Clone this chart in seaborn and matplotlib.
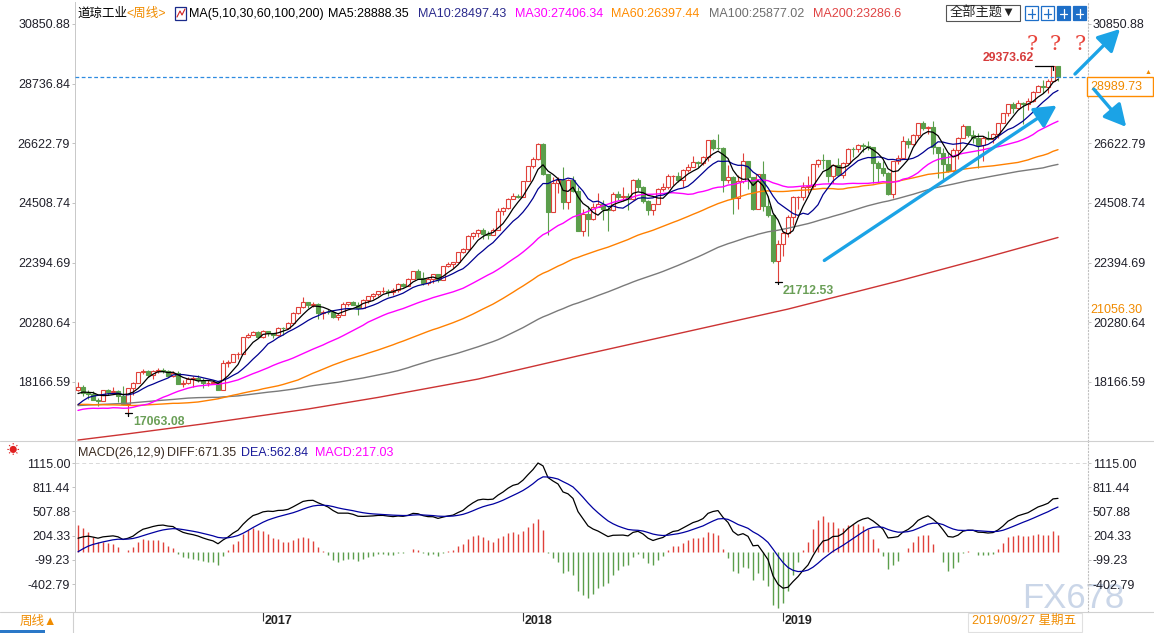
import numpy as np
import pandas as pd
import matplotlib
matplotlib.use('Agg')
import matplotlib.pyplot as plt
from matplotlib.patches import Rectangle, FancyArrowPatch
import seaborn as sns

# weekly closes before the first visible bar (May 2014 - Apr 2016), used for MA / MACD warm-up
pre_close = [16606, 16717, 16924, 16776, 16947, 16851, 17068, 16944, 17100, 16961,
             16493, 16554, 16663, 17001, 17098, 17138, 16988, 17280, 17113, 17009,
             16544, 16380, 16805, 17391, 17573, 17634, 17810, 17828, 17958, 17280,
             17805, 18053, 17833, 17737, 17511, 17672, 17165, 17825, 18019, 18140,
             18133, 17856, 17749, 18128, 17713, 17763, 18058, 17826, 18080, 18024,
             18191, 18272, 18232, 18011,
             17849, 17898, 18015, 17947, 17730, 17760, 18086, 17568, 17690, 17373,
             17477, 16460, 16643, 16102, 16433, 16385, 16315, 16472, 17084, 17216,
             17647, 17664, 17910, 17245, 17824, 17798, 17848, 17265, 17128, 17552,
             17425, 16346, 15988, 16094, 16466, 16205, 15974, 16392, 16640, 17007,
             17213, 17602, 17516, 17793, 17577, 17897]

# visible weekly bars: 2016-04-22 ... 2020-01-24
close = [18003, 17774, 17741, 17535, 17501, 17873, 17807, 17865, 17675, 17400,
         17949, 18147, 18517, 18571, 18432, 18544, 18576, 18553, 18395, 18492,
         18085, 18124, 18262, 18308, 18240, 18138, 18146, 18161, 17888, 18847,
         18868, 19152, 19171, 19757, 19843, 19934, 19763,
         19964, 19886, 19827, 20094, 20071, 20269, 20624, 20822, 21005, 20903,
         20915, 20597, 20663, 20656, 20453, 20548, 20941, 21007, 20897, 20805,
         21080, 21206, 21272, 21384, 21395, 21350, 21414, 21638, 21580, 21830,
         22093, 21858, 21675, 21814, 21988, 21798, 22268, 22350, 22405, 22773,
         22871, 23329, 23434, 23539, 23422, 23358, 23558, 24231, 24329, 24652,
         24754, 24719,
         25295, 25803, 26072, 26616, 25521, 24190, 25219, 25310, 24538, 25336,
         24946, 23533, 24103, 23933, 24360, 24463, 24311, 24263, 24831, 24715,
         24753, 24635, 25317, 25090, 24581, 24271, 24456, 25019, 25058, 25451,
         25463, 25313, 25669, 25790, 25965, 25917, 26155, 26744, 26458, 26447,
         25340, 25444, 24688, 25271, 25989, 25413, 24286, 25538, 24389, 24101,
         22445, 23062,
         23433, 23996, 24706, 24737, 25064, 25106, 25883, 26031, 26026, 25450,
         25849, 25502, 25929, 26425, 26412, 26559, 26543, 26505, 25942, 25764,
         25586, 24815, 25984, 26090, 26719, 26600, 26922, 27332, 27154, 27192,
         26485, 26287, 25886, 25629, 26403, 26797, 27220, 26935, 26820, 26573,
         26817, 26770, 26958, 27347, 27681, 28005, 27876, 28051, 28015, 28135,
         28455, 28645,
         28634, 28824, 29348, 28989.73]

high = [18167, 18065, 17880, 17860, 17610, 17890, 17930, 18005, 17870, 18012,
        17950, 18150, 18537, 18622, 18590, 18580, 18668, 18650, 18580, 18550,
        18540, 18250, 18360, 18365, 18400, 18320, 18250, 18250, 18200, 18934,
        18934, 19153, 19225, 19775, 19912, 19987, 19981,
        19999, 19975, 19900, 20125, 20110, 20298, 20640, 20840, 21170, 21010,
        21000, 20950, 20730, 20740, 20700, 20610, 21000, 21010, 21030, 21000,
        21110, 21225, 21305, 21392, 21535, 21460, 21480, 21680, 21680, 21860,
        22100, 22180, 22050, 21900, 22000, 21990, 22275, 22420, 22420, 22780,
        22905, 23368, 23485, 23602, 23610, 23510, 23610, 24327, 24350, 24670,
        24876, 24840,
        25300, 25810, 26150, 26617, 26617, 25520, 25430, 25430, 25800, 25350,
        25450, 25090, 24300, 24400, 24500, 24860, 24600, 24400, 24900, 24950,
        25090, 24850, 25370, 25400, 25100, 24600, 24470, 25030, 25220, 25540,
        25500, 25600, 25720, 25890, 26170, 26000, 26160, 26750, 26770, 26951,
        26500, 25850, 25450, 25500, 26280, 26000, 25420, 25550, 25980, 24760,
        24150, 23180,
        23520, 24070, 24750, 24740, 25250, 25450, 25900, 26060, 26240, 26000,
        25900, 26110, 25950, 26450, 26480, 26600, 26650, 26695, 26450, 26000,
        25990, 25600, 26000, 26200, 26900, 26800, 26970, 27340, 27400, 27250,
        27400, 26490, 26450, 26270, 26460, 26850, 27300, 27190, 27080, 27000,
        26870, 27050, 27000, 27350, 27700, 28010, 28090, 28175, 28070, 28230,
        28460, 28700,
        28870, 28900, 29373.62, 29300]

low = [17860, 17670, 17580, 17530, 17330, 17480, 17690, 17780, 17470, 17356,
       17063.08, 17710, 18130, 18450, 18360, 18280, 18500, 18470, 18330, 18330,
       18085, 17990, 18080, 18000, 18180, 17960, 18030, 18090, 17880, 17888,
       18700, 18900, 18990, 19170, 19720, 19840, 19720,
       19720, 19800, 19730, 19790, 19830, 20050, 20270, 20560, 20790, 20780,
       20810, 20410, 20410, 20560, 20430, 20380, 20548, 20850, 20880, 20550,
       20800, 20970, 21110, 21230, 21330, 21200, 21260, 21350, 21530, 21560,
       21800, 21840, 21600, 21600, 21690, 21720, 21800, 22250, 22220, 22410,
       22730, 22850, 23240, 23300, 23250, 23240, 23360, 23540, 24100, 24290,
       24650, 24700,
       24720, 25300, 25750, 26020, 25490, 23360, 24190, 24880, 24300, 24300,
       24900, 23500, 23350, 23340, 23900, 24360, 23900, 23530, 24220, 24600,
       24580, 24250, 24630, 24950, 24500, 24080, 24070, 24460, 24950, 25000,
       25130, 25250, 25090, 25600, 25800, 25800, 25850, 26000, 26380, 26400,
       24900, 25200, 24120, 24300, 25200, 25000, 24270, 24300, 24240, 24000,
       22400, 21712.53,
       22640, 23300, 23740, 24300, 24600, 24880, 25000, 25800, 25700, 25250,
       25200, 25500, 25400, 25950, 26150, 26300, 26300, 26380, 25220, 25220,
       25450, 24800, 24680, 25900, 26050, 26450, 26580, 26800, 27100, 26950,
       26250, 25400, 25340, 25600, 25600, 26050, 26800, 26860, 26650, 25740,
       26000, 26750, 26640, 26800, 27350, 27600, 27700, 27850, 27320, 27800,
       28100, 28450,
       28400, 28400, 28850, 28820]

# MA200 at a few bars
ma200_idx = [0, 10, 25, 46, 60, 80, 100, 120, 142, 164, 180, 196]
ma200_val = [16110, 16330, 16680, 17210, 17620, 18270, 19090, 19880, 20750, 21740, 22500, 23287]

year_idx = [37, 89, 141]
year_lab = ['2017', '2018', '2019']

main_ticks = [30850.88, 28736.84, 26622.79, 24508.74, 22394.69, 20280.64, 18166.59]
macd_ticks = [1115.00, 811.44, 507.88, 204.33, -99.23, -402.79]

last_price = 28989.73
hi_label, lo1_idx, lo2_idx = 195, 10, 140

# ---------------- indicators ----------------
full = pd.Series(pre_close + close, dtype=float)
npre = len(pre_close)
ma = {k: full.rolling(k).mean().iloc[npre:].to_numpy() for k in (5, 10, 30, 60, 100)}
ema12 = full.ewm(span=12, adjust=False).mean()
ema26 = full.ewm(span=26, adjust=False).mean()
dif = ema12 - ema26
dea = dif.ewm(span=9, adjust=False).mean()
bar = 2 * (dif - dea)
dif, dea, bar = [s.iloc[npre:].to_numpy() for s in (dif, dea, bar)]

c = np.array(close, dtype=float)
o = np.r_[pre_close[-1], c[:-1]]
h = np.maximum(np.array(high, dtype=float), np.maximum(o, c))
l = np.minimum(np.array(low, dtype=float), np.minimum(o, c))
x = np.arange(len(c))
up = c >= o

RED = '#E0413A'
GREEN = '#5B9E4B'

# ---------------- figure ----------------
sns.set_style('white')
plt.rcParams['font.family'] = ['Liberation Sans', 'Noto Sans CJK SC', 'DejaVu Sans']

W, H = 1154, 633
fig = plt.figure(figsize=(W / 100, H / 100), dpi=100)
fig.patch.set_facecolor('white')


def box(lft, top, rgt, bot):
    return [lft / W, 1 - bot / H, (rgt - lft) / W, (bot - top) / H]


def fx(p):
    return p / W


def fy(p):
    return 1 - p / H


def label(px, py, s, color='#1a1a1a', size=9, ha='left', va='center', **kw):
    fig.text(fx(px), fy(py), s, color=color, fontsize=size, ha=ha, va=va, **kw)


ax = fig.add_axes(box(75, 2, 1088, 441))
axm = fig.add_axes(box(75, 441, 1088, 612))
axs = fig.add_axes(box(75, 612, 1088, 633))
for a in (ax, axm, axs):
    a.set_xlim(-0.6, 202)
    a.set_facecolor('none')
    a.set_xticks([])
    for s in a.spines.values():
        s.set_visible(False)

ax.set_ylim(16076, 31630)
axm.set_ylim(-754, 1391)

# candles
ax.vlines(x, l, h, colors=np.where(up, RED, GREEN), lw=0.8, zorder=2)
ax.bar(x[up], (c - o)[up], bottom=o[up], width=0.7, facecolor='white',
       edgecolor=RED, lw=0.8, zorder=3)
ax.bar(x[~up], (o - c)[~up], bottom=c[~up], width=0.7, facecolor=GREEN,
       edgecolor=GREEN, lw=0.8, zorder=3)

# moving averages
sns.lineplot(x=ma200_idx, y=ma200_val, ax=ax, color='#CC3333', lw=1.0, zorder=4)
sns.lineplot(x=x, y=ma[100], ax=ax, color='#7A7A7A', lw=1.0, zorder=4)
sns.lineplot(x=x, y=ma[60], ax=ax, color='#FF8000', lw=1.0, zorder=4)
sns.lineplot(x=x, y=ma[30], ax=ax, color='#FF00FF', lw=1.0, zorder=4)
sns.lineplot(x=x, y=ma[10], ax=ax, color='#000090', lw=0.9, zorder=5)
sns.lineplot(x=x, y=ma[5], ax=ax, color='black', lw=0.9, zorder=5)

ax.axhline(last_price, color='#2E8BE0', ls=(0, (3, 2)), lw=0.9, zorder=6)

# high / low marks
ax.plot([hi_label - 3.6, hi_label], [h[hi_label]] * 2, color='black', lw=0.9, zorder=6)
ax.plot([hi_label, hi_label], [h[hi_label], h[hi_label] - 150], color='black', lw=0.9, zorder=6)
ax.text(hi_label - 3.9, h[hi_label] + 60, f'{h[hi_label]:.2f}', color='#D63B3B',
        fontsize=8.8, fontweight='bold', ha='right', va='bottom', zorder=7)
for i in (lo1_idx, lo2_idx):
    ax.plot([i - 0.7, i + 0.7], [l[i]] * 2, color='black', lw=0.9, zorder=6)
    ax.plot([i, i], [l[i] - 90, l[i]], color='black', lw=0.9, zorder=6)
    ax.text(i + 1.0, l[i] - 110, f'{l[i]:.2f}', color='#6A9F57', fontsize=8.8,
            fontweight='bold', ha='left', va='top', zorder=7)

# ticks
for a, ticks in ((ax, main_ticks), (axm, macd_ticks)):
    a.set_yticks(ticks)
    a.set_yticklabels([f'{t:.2f}' for t in ticks])
    a.tick_params(axis='y', left=True, right=True, labelleft=True, labelright=True,
                  length=2, width=0.6, color='#B8B8B8', labelsize=9,
                  labelcolor='#20202A', pad=1.5)
    a.spines['left'].set_visible(True)
    a.spines['left'].set_color('#C8C8C8')
    a.spines['left'].set_linewidth(0.7)
    a.spines['right'].set_visible(True)
    a.spines['right'].set_color('#C0C0C0')
    a.spines['right'].set_linestyle((0, (1, 2)))
    a.spines['right'].set_linewidth(0.8)
# right label under the current-price box is hidden in the reference
ax.yaxis.get_major_ticks()[1].label2.set_visible(False)

# MACD panel
axm.vlines(x, 0, bar, colors=np.where(bar >= 0, RED, GREEN), lw=1.0, zorder=2)
sns.lineplot(x=x, y=dif, ax=axm, color='black', lw=0.9, zorder=3)
sns.lineplot(x=x, y=dea, ax=axm, color='#0000A0', lw=0.9, zorder=3)
axm.axhline(macd_ticks[0], color='#D8D8D8', ls=(0, (4, 3)), lw=0.7, zorder=1)

# bottom date strip
axs.set_ylim(0, 1)
axs.set_yticks([])
axs.vlines(year_idx, 0.55, 1.0, color='#333333', lw=0.8)
for i, lab in zip(year_idx, year_lab):
    axs.text(i + 0.4, 0.55, lab, color='#222222', fontsize=9, fontweight='bold',
             ha='left', va='center')

# separators
fig.add_artist(plt.Line2D([0, 1], [fy(441), fy(441)], color='#D0D0D0', lw=0.8))
fig.add_artist(plt.Line2D([0, 1], [fy(612), fy(612)], color='#D0D0D0', lw=0.8))
fig.add_artist(plt.Line2D([fx(73), fx(73)], [fy(612), fy(633)], color='#D0D0D0', lw=0.8))

# header texts
label(77, 14, '道琼工业', '#000000')
label(126, 14, '<周线>', '#F08C00')
fig.add_artist(Rectangle((fx(175), fy(20)), 11 / W, 13 / H, transform=fig.transFigure,
                         facecolor='white', edgecolor='#1A2A8A', lw=0.9))
fig.add_artist(plt.Line2D([fx(177), fx(180), fx(182), fx(185)],
                          [fy(17), fy(11), fy(15), fy(9)], color='#D02020', lw=0.8))
label(189, 14, 'MA(5,10,30,60,100,200)', '#000000')
label(328, 14, 'MA5:28888.35', '#000000')
label(418, 14, 'MA10:28497.43', '#2A2A8C')
label(515, 14, 'MA30:27406.34', '#FF00FF')
label(611, 14, 'MA60:26397.44', '#FF8C00')
label(709, 14, 'MA100:25877.02', '#6E6E6E')
label(813, 14, 'MA200:23286.6', '#E04444')

fig.add_artist(Rectangle((fx(946), fy(21)), 74 / W, 16 / H, transform=fig.transFigure,
                         facecolor='white', edgecolor='#555555', lw=0.8))
label(983, 13, '全部主题▼', '#222222', size=9.5, ha='center')
for k, filled in enumerate([False, False, True, True]):
    x0 = 1025 + k * 16
    fig.add_artist(Rectangle((fx(x0), fy(20)), 13 / W, 14 / H, transform=fig.transFigure,
                             facecolor='#1E6FC8' if filled else 'white',
                             edgecolor='#1E6FC8', lw=0.9))
    gc = 'white' if filled else '#1E6FC8'
    fig.add_artist(plt.Line2D([fx(x0 + 6.5), fx(x0 + 6.5)], [fy(9), fy(18)], color=gc, lw=0.9))
    fig.add_artist(plt.Line2D([fx(x0 + 3), fx(x0 + 10)], [fy(13.5), fy(13.5)], color=gc, lw=0.9))

label(78, 453, 'MACD(26,12,9)', '#3A2A20')
label(167, 453, 'DIFF:671.35', '#3A2A20')
label(241, 453, 'DEA:562.84', '#1A1A9A')
label(315, 453, 'MACD:217.03', '#FF00FF')
label(13, 451, '☀', '#E02020', size=9, ha='center')

# right side price boxes
fig.add_artist(Rectangle((fx(1087), fy(96)), 66 / W, 19 / H, transform=fig.transFigure,
                         facecolor='white', edgecolor='#FF8C00', lw=1.0, zorder=5))
label(1090, 87, '28989.73', '#F08A00', zorder=6)
label(1148, 73, '▲', '#F08A00', size=5, ha='center', zorder=6)
label(1090, 310, '21056.30', '#F08A00', zorder=6,
      bbox=dict(facecolor='white', edgecolor='none', pad=0.5))

# question marks
for qx in (1032, 1055, 1080):
    label(qx, 45, '?', '#E8453C', size=15, ha='center', family='DejaVu Serif')

# arrows
for (x1, y1), (x2, y2) in [((822, 262), (1059, 104)),
                           ((1073, 76), (1122, 27)),
                           ((1092, 87), (1128, 129))]:
    fig.add_artist(FancyArrowPatch((fx(x1), fy(y1)), (fx(x2), fy(y2)),
                                   transform=fig.transFigure,
                                   arrowstyle='-|>,head_length=0.95,head_width=0.5',
                                   mutation_scale=14, lw=2.4, color='#1BA3E6',
                                   zorder=8))

# bottom strip boxes
label(20, 622, '周线▲', '#F08C00')
fig.add_artist(Rectangle((fx(968), fy(632)), 114 / W, 19 / H, transform=fig.transFigure,
                         facecolor='white', edgecolor='#E0E0E0', lw=0.8))
label(972, 621, '2019/09/27 星期五', '#F08C00')
fig.add_artist(Rectangle((0, 0), 45 / W, 3 / H, transform=fig.transFigure,
                         facecolor='#2A78C8', edgecolor='none'))

# watermark
fig.text(fx(1073), fy(598), 'FX678', color='#C5D2E6', fontsize=25, ha='center',
         va='center', zorder=-1, alpha=0.9)

fig.savefig('out.png', dpi=100, facecolor='white')
